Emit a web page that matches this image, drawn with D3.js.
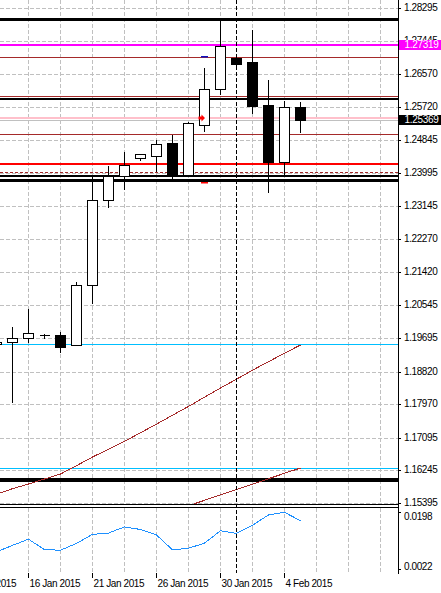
<!DOCTYPE html>
<html>
<head>
<meta charset="utf-8">
<script src="https://cdnjs.cloudflare.com/ajax/libs/d3/7.8.5/d3.min.js"></script>
<style>
body { margin: 0; background: #fff; }
svg { display: block; }
</style>
</head>
<body>
<div id="chart"></div>
<script>
// daily bars, 14 Jan - 5 Feb 2015 (broker with Sunday bars)
var dates = ['14 Jan', '15 Jan', '16 Jan', '18 Jan', '19 Jan', '20 Jan', '21 Jan', '22 Jan', '23 Jan', '25 Jan',
    '26 Jan', '27 Jan', '28 Jan', '29 Jan', '30 Jan', '1 Feb', '2 Feb', '3 Feb', '4 Feb', '5 Feb'];
var opens = [1.19513, 1.19565, 1.19695, 1.19755, 1.19755, 1.19487, 1.21076, 1.23291, 1.23906, 1.24360,
    1.24428, 1.24759, 1.23932, 1.25236, 1.26184, 1.26974, 1.26870, 1.25749, 1.24256, 1.25705];
var highs = [1.19625, 1.19982, 1.20459, 1.19807, 1.19867, 1.21162, 1.23906, 1.24193, 1.24550, 1.24480,
    1.24881, 1.24993, 1.25340, 1.26757, 1.28042, 1.27000, 1.27730, 1.26426, 1.25887, 1.25853];
var lows = [1.19468, 1.18009, 1.19565, 1.19685, 1.19320, 1.19487, 1.20589, 1.23098, 1.23560, 1.24316,
    1.24037, 1.23820, 1.23899, 1.25079, 1.26043, 1.26791, 1.25540, 1.23489, 1.23925, 1.25053];
var closes = [1.19565, 1.19669, 1.19825, 1.19755, 1.19450, 1.21076, 1.23291, 1.23906, 1.24185, 1.24472,
    1.24733, 1.23925, 1.25298, 1.26184, 1.27294, 1.26817, 1.25731, 1.24271, 1.25715, 1.25369];

// two indicator lines drawn on the price window
var trendA = [1.15624, 1.15768, 1.15890, 1.16020, 1.16151, 1.16367, 1.16594, 1.16797, 1.17000, 1.17227,
    1.17449, 1.17683, 1.17912, 1.18152, 1.18392, 1.18621, 1.18856, 1.19077, 1.19299, 1.19513];
var trendB = [null, null, null, null, null, null, null, null, null, null,
    null, null, 1.15324, 1.15465, 1.15606, 1.15747, 1.15888, 1.16028, 1.16169, 1.16307];

// sub window oscillator
var osc = [0.0075, 0.0095, 0.0114, 0.0082, 0.0080, 0.0101, 0.0129, 0.0133, 0.0152, 0.0144,
    0.0127, 0.0081, 0.0086, 0.0102, 0.0140, 0.0132, 0.0157, 0.0189, 0.0197, 0.0171];
var oscTicks = [0.0022, 0.0198];

var priceTicks = [1.28295, 1.27445, 1.26570, 1.25720, 1.24845, 1.23995, 1.23145, 1.22270,
    1.21420, 1.20545, 1.19695, 1.18820, 1.17970, 1.17095, 1.16245, 1.15395];
var dateLabels = ['12 Jan 2015', '16 Jan 2015', '21 Jan 2015', '26 Jan 2015', '30 Jan 2015', '4 Feb 2015'];
var dateLabelIdx = [-2, 2, 6, 10, 14, 18];

// horizontal line objects
var levelPrices = [1.27990, 1.27319, 1.26992, 1.25991, 1.25913, 1.25418, 1.25369, 1.25011,
    1.24219, 1.23995, 1.23906, 1.23787, 1.19513, 1.16297, 1.15984];
var levelColors = ['#000', '#ff00ff', '#a52a2a', '#a52a2a', '#000', '#ffc0cb', '#c0c0c0', '#a52a2a',
    '#ff0000', '#a52a2a', '#000', '#000', '#00bfff', '#00bfff', '#000'];
var levelWidths = [3, 2, 1, 1, 2, 2, 1, 1, 2, 1, 2, 3, 1, 1, 4];
var levelDashed = [0, 0, 0, 0, 0, 0, 0, 0, 0, 1, 0, 0, 0, 0, 0];

// price tags on the axis
var tagPrices = [1.27319, 1.25369];
var tagColors = ['#ff00ff', '#000'];

// trade marks on the 29 Jan bar
var markIdx = 13;
var arrowPrice = 1.25428;
var tpPrice = 1.27018, slPrice = 1.23742;
var separatorIdx = 15;

var W = 441, H = 593;
var plotRight = 398;
var mainBottom = 504, subTop = 507, subBottom = 573;
var FONT = "'Liberation Sans', Arial, sans-serif";

var svg = d3.select('#chart').append('svg').attr('width', W).attr('height', H);
svg.append('rect').attr('width', W).attr('height', H).attr('fill', '#fff');

var defs = svg.append('defs');
defs.append('clipPath').attr('id', 'clipMain').append('rect')
    .attr('x', 0).attr('y', 0).attr('width', plotRight).attr('height', mainBottom);
defs.append('clipPath').attr('id', 'clipSub').append('rect')
    .attr('x', 0).attr('y', subTop + 1).attr('width', plotRight).attr('height', subBottom - subTop - 1);

var x = d3.scaleLinear().domain([0, dates.length - 1]).range([-4, -4 + 16 * (dates.length - 1)]);
var y = d3.scaleLinear().domain([1.15395, 1.28295]).range([503, 8]);
var yRound = y.copy().interpolate(d3.interpolateRound);
var ySub = d3.scaleLinear().domain([0.0022, 0.0198]).range([569, 512]);

function crisp(v, w) {
    return (w % 2) ? Math.round(v - 0.5) + 0.5 : Math.round(v);
}
function cx(i) {
    return x(i) + 0.5;
}

// grid
var grid = svg.append('g').attr('stroke', '#c0c0c0').attr('stroke-dasharray', '4,2')
    .attr('shape-rendering', 'crispEdges');
grid.selectAll('line.h').data(priceTicks).enter().append('line').attr('class', 'h')
    .attr('x1', 0).attr('x2', plotRight)
    .attr('y1', function (d) { return yRound(d) + 0.5; })
    .attr('y2', function (d) { return yRound(d) + 0.5; });
var vgrid = d3.range(2, 25, 2);
grid.selectAll('line.v').data(vgrid).enter().append('line').attr('class', 'v')
    .attr('x1', cx).attr('x2', cx).attr('y1', 0).attr('y2', mainBottom);
grid.selectAll('line.vs').data(vgrid).enter().append('line').attr('class', 'vs')
    .attr('x1', cx).attr('x2', cx).attr('y1', subTop + 1).attr('y2', subBottom);

// horizontal objects
var main = svg.append('g').attr('clip-path', 'url(#clipMain)');
main.selectAll('line.level').data(levelPrices).enter().append('line').attr('class', 'level')
    .attr('x1', 0).attr('x2', plotRight)
    .attr('y1', function (d, i) { return crisp(y(d), levelWidths[i]); })
    .attr('y2', function (d, i) { return crisp(y(d), levelWidths[i]); })
    .attr('stroke', function (d, i) { return levelColors[i]; })
    .attr('stroke-width', function (d, i) { return levelWidths[i]; })
    .attr('stroke-dasharray', function (d, i) { return levelDashed[i] ? '3,2' : null; })
    .attr('shape-rendering', 'crispEdges');

// indicator lines
var lineOf = function (scale) {
    return d3.line()
        .defined(function (d) { return d != null; })
        .x(function (d, i) { return cx(i); })
        .y(function (d) { return scale(d); });
};
[trendA, trendB].forEach(function (s) {
    main.append('path').attr('d', lineOf(y)(s))
        .attr('fill', 'none').attr('stroke', '#a52a2a').attr('stroke-width', 1)
        .attr('shape-rendering', 'crispEdges');
});

// candles
var idx = d3.range(dates.length);
var candles = main.selectAll('g.candle').data(idx).enter().append('g').attr('class', 'candle');
candles.append('line')
    .attr('x1', cx).attr('x2', cx)
    .attr('y1', function (i) { return crisp(y(highs[i]), 1); })
    .attr('y2', function (i) { return crisp(y(lows[i]), 1); })
    .attr('stroke', '#000').attr('shape-rendering', 'crispEdges');
candles.append('path')
    .attr('d', function (i) {
        var top = crisp(y(Math.max(opens[i], closes[i])), 1);
        var bot = crisp(y(Math.min(opens[i], closes[i])), 1);
        var c = cx(i);
        return 'M' + (c - 5) + ',' + top + 'H' + (c + 5) + 'V' + bot + 'H' + (c - 5) + 'Z';
    })
    .attr('fill', function (i) { return closes[i] >= opens[i] ? '#fff' : '#000'; })
    .attr('stroke', '#000').attr('shape-rendering', 'crispEdges');

// trade marks
main.append('path')
    .attr('transform', 'translate(' + (cx(markIdx) - 3) + ',' + y(arrowPrice) + ')')
    .attr('d', 'M-3,-1.5H0V-3.5L3.5,0L0,3.5V1.5H-3Z')
    .attr('fill', '#ff0000');
main.append('rect').attr('x', cx(markIdx) - 3.5).attr('y', crisp(y(tpPrice), 2) - 1)
    .attr('width', 7).attr('height', 1.5).attr('fill', '#1010c0');
main.append('rect').attr('x', cx(markIdx) - 3.5).attr('y', crisp(y(slPrice), 2) - 1)
    .attr('width', 7).attr('height', 1.5).attr('fill', '#ff0000');

// sub window oscillator
var sub = svg.append('g').attr('clip-path', 'url(#clipSub)');
sub.append('path').attr('d', lineOf(ySub)(osc))
    .attr('fill', 'none').attr('stroke', '#1e90ff').attr('stroke-width', 1)
    .attr('shape-rendering', 'crispEdges');

// month separator
svg.append('line')
    .attr('x1', cx(separatorIdx)).attr('x2', cx(separatorIdx)).attr('y1', 0).attr('y2', subBottom)
    .attr('stroke', '#000').attr('stroke-dasharray', '4,2').attr('shape-rendering', 'crispEdges');

// frames
var frame = svg.append('g').attr('stroke', '#000').attr('shape-rendering', 'crispEdges');
frame.append('line').attr('x1', plotRight + 0.5).attr('x2', plotRight + 0.5).attr('y1', 0).attr('y2', subBottom + 1);
frame.append('line').attr('x1', 0).attr('x2', plotRight + 0.5).attr('y1', mainBottom + 0.5).attr('y2', mainBottom + 0.5);
frame.append('line').attr('x1', 0).attr('x2', plotRight + 0.5).attr('y1', subTop + 0.5).attr('y2', subTop + 0.5);

// price axis
var yAxis = d3.axisRight(yRound).tickValues(priceTicks).tickSize(3).tickPadding(3)
    .tickFormat(d3.format('.5f'));
var gy = svg.append('g').attr('transform', 'translate(' + plotRight + ',0)').call(yAxis);
gy.select('.domain').remove();
gy.attr('font-family', FONT).attr('font-size', 10);
gy.selectAll('text').attr('fill', '#000').attr('dy', '0.28em').style('letter-spacing', '-0.4px');

// sub axis
var subAxis = d3.axisRight(ySub).tickValues(oscTicks).tickSize(3).tickPadding(3)
    .tickFormat(d3.format('.4f'));
var gs = svg.append('g').attr('transform', 'translate(' + plotRight + ',0)').call(subAxis);
gs.select('.domain').remove();
gs.attr('font-family', FONT).attr('font-size', 10);
gs.selectAll('text').attr('fill', '#000').style('letter-spacing', '-0.4px')
    .attr('dy', function (d) { return d === d3.max(oscTicks) ? '0.75em' : '0.05em'; });

// date axis
var xAxis = d3.axisBottom(x).tickValues(dateLabelIdx).tickSize(5).tickPadding(2)
    .tickFormat(function (d, i) { return dateLabels[i]; });
var gx = svg.append('g').attr('transform', 'translate(0,' + subBottom + ')').call(xAxis);
gx.select('.domain').remove();
gx.attr('font-family', FONT).attr('font-size', 10);
gx.selectAll('text').attr('fill', '#000').attr('text-anchor', 'start').attr('x', 1)
    .style('letter-spacing', '-0.4px');

// price tags
var tags = svg.append('g').attr('font-family', FONT).attr('font-size', 10);
tags.selectAll('rect').data(tagPrices).enter().append('rect')
    .attr('x', plotRight + 1).attr('width', W - plotRight - 1)
    .attr('y', function (d) { return Math.round(y(d)) - 5; }).attr('height', 10)
    .attr('fill', function (d, i) { return tagColors[i]; });
tags.selectAll('text').data(tagPrices).enter().append('text')
    .attr('x', plotRight + 6.5).attr('y', function (d) { return Math.round(y(d)); })
    .attr('dy', '0.33em').attr('fill', '#fff').style('letter-spacing', '-0.3px')
    .text(d3.format('.5f'));
</script>
</body>
</html>
